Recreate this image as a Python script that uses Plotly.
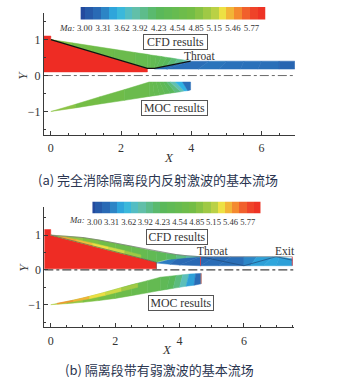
import plotly.graph_objects as go
from plotly.colors import sample_colorscale

W, H = 343, 378
SERIF = "Liberation Serif"
CJK = "Noto Sans CJK SC"
INK = "#3a3a3a"

# ---------- data ----------
MACH_TICKS = [3.00, 3.31, 3.62, 3.92, 4.23, 4.54, 4.85, 5.15, 5.46, 5.77]
MACH_LEVELS = [2.95, 3.08, 3.21, 3.34, 3.47, 3.60, 3.73, 3.86, 3.99, 4.12, 4.25, 4.38, 4.51,
               4.64, 4.77, 4.90, 5.03, 5.16, 5.29, 5.42, 5.55, 5.68, 5.81, 5.94]
MACH_SCALE_M = [2.93, 3.25, 3.54, 3.81, 4.20, 4.80, 5.15, 5.27, 5.50, 5.75, 6.00]
MACH_SCALE_C = ["#23479c", "#2a6fb8", "#2fb6e6", "#62c0b4", "#58b85c", "#74bd45",
                "#b5cf45", "#ece845", "#f59a30", "#ef4a2a", "#ee2c24"]

# panel (a) solid body
A_BODY_X = [-0.2, -0.2, 0.0, 0.0, 2.75, 2.75, -0.2]
A_BODY_Y = [0.10, 1.10, 1.10, 1.00, 0.20, 0.10, 0.10]
A_BODY_LINE_X = [0.0, 2.75, 2.95, 3.98]
A_BODY_LINE_Y = [1.00, 0.20, 0.20, 0.40]

# strips: upper x, upper y, lower x, lower y, Mach of each station
A_CFD_XU = [0.0, 0.6, 1.2, 1.8, 2.4, 2.75, 2.85, 3.0, 3.15, 3.3, 3.45, 3.6, 3.8, 3.98]
A_CFD_YU = [1.00, 0.91, 0.82, 0.73, 0.64, 0.59, 0.57, 0.55, 0.53, 0.505, 0.485, 0.46, 0.43, 0.40]
A_CFD_XL = [0.0, 0.6, 1.2, 1.8, 2.4, 2.75, 2.85, 2.95, 3.0, 3.15, 3.3, 3.5, 3.75, 3.98]
A_CFD_YL = [1.00, 0.83, 0.65, 0.48, 0.30, 0.20, 0.20, 0.20, 0.21, 0.24, 0.27, 0.31, 0.36, 0.40]
A_CFD_M = [4.95, 4.80, 4.70, 4.65, 4.55, 4.45, 4.45, 4.40, 4.35, 4.25, 4.15, 4.05, 3.90, 3.75]

A_DUCT_XU = [2.95, 3.98, 4.5, 5.0, 5.5, 6.0, 6.5, 6.95]
A_DUCT_YU = [0.20, 0.40, 0.40, 0.40, 0.40, 0.40, 0.40, 0.40]
A_DUCT_XL = [2.95, 3.3, 4.2, 4.8, 5.4, 5.9, 6.5, 6.95]
A_DUCT_YL = [0.18, 0.18, 0.18, 0.18, 0.18, 0.18, 0.18, 0.18]
A_DUCT_M = [3.20, 3.24, 3.24, 3.30, 3.22, 3.30, 3.20, 3.14]

A_MOC_XU = [0.0, 0.7, 1.4, 2.1, 2.8, 2.9, 3.0, 3.1, 3.2, 3.3, 3.4, 3.55, 3.75, 3.98]
A_MOC_YU = [-1.00, -0.80, -0.59, -0.39, -0.18, -0.18, -0.18, -0.18, -0.18, -0.18, -0.18, -0.18, -0.18, -0.18]
A_MOC_XL = [0.0, 0.7, 1.4, 2.1, 2.8, 2.95, 3.1, 3.25, 3.4, 3.55, 3.7, 3.8, 3.9, 3.98]
A_MOC_YL = [-1.00, -0.90, -0.79, -0.69, -0.58, -0.56, -0.54, -0.51, -0.49, -0.47, -0.45, -0.43, -0.42, -0.40]
A_MOC_M = [5.0, 4.85, 4.75, 4.65, 4.55, 4.50, 4.45, 4.40, 4.30, 4.15, 3.95, 3.70, 3.35, 3.15]

# panel (b) solid body
B_BODY_X = [-0.2, -0.2, 0.0, 0.0, 3.28, 3.28, -0.2]
B_BODY_Y = [0.03, 1.16, 1.16, 1.00, 0.22, 0.03, 0.03]

B_CFD_XU = [0.0, 0.5, 1.0, 1.5, 2.0, 2.5, 3.0, 3.3, 3.6, 3.9, 4.2, 4.65]
B_CFD_YU = [1.00, 0.97, 0.93, 0.86, 0.77, 0.68, 0.58, 0.53, 0.48, 0.44, 0.41, 0.38]
B_CFD_XL = [0.0, 0.5, 1.0, 1.5, 2.0, 2.5, 3.0, 3.28, 3.6, 3.9, 4.2, 4.65]
B_CFD_YL = [1.00, 0.88, 0.76, 0.64, 0.52, 0.41, 0.29, 0.22, 0.30, 0.32, 0.35, 0.38]
B_CFD_M = [5.10, 5.00, 4.90, 4.80, 4.65, 4.55, 4.45, 4.35, 4.25, 4.10, 3.95, 3.75]

B_SLIVER_XU = [0.3, 0.8, 1.3, 1.8, 2.3, 2.8]
B_SLIVER_YU = [0.96, 0.87, 0.77, 0.66, 0.55, 0.43]
B_SLIVER_XL = [0.3, 0.8, 1.3, 1.8, 2.3, 2.8]
B_SLIVER_YL = [0.93, 0.81, 0.69, 0.57, 0.45, 0.34]
B_SLIVER_M = [5.50, 5.45, 5.35, 5.25, 5.15, 4.90]

B_DUCT_XU = [3.28, 4.0, 4.65, 5.1, 5.6, 6.0, 6.4, 6.9, 7.1, 7.5]
B_DUCT_YU = [0.20, 0.38, 0.38, 0.38, 0.38, 0.38, 0.38, 0.38, 0.38, 0.32]
B_DUCT_XL = [3.28, 3.7, 4.0, 4.65, 5.2, 6.0, 6.2, 6.6, 7.0, 7.5]
B_DUCT_YL = [0.20, 0.16, 0.14, 0.12, 0.12, 0.12, 0.12, 0.12, 0.12, 0.12]
B_DUCT_M = [3.50, 3.10, 3.30, 3.10, 3.35, 3.15, 3.55, 3.35, 3.60, 3.30]
B_SHOCK_X = [4.65, 6.0, 7.0, 7.5]
B_SHOCK_Y = [0.38, 0.12, 0.38, 0.28]

B_MOC_XU = [0.0, 0.5, 1.0, 1.5, 2.0, 2.5, 3.0, 3.4, 3.7, 3.9, 4.1, 4.3, 4.5, 4.67]
B_MOC_YU = [-1.00, -0.91, -0.81, -0.69, -0.56, -0.43, -0.31, -0.21, -0.18, -0.16, -0.14, -0.12, -0.11, -0.10]
B_MOC_XL = [0.0, 0.5, 1.0, 1.5, 2.0, 2.5, 3.0, 3.4, 3.6, 3.8, 4.0, 4.2, 4.45, 4.67]
B_MOC_YL = [-1.00, -0.97, -0.93, -0.88, -0.82, -0.74, -0.66, -0.59, -0.56, -0.53, -0.50, -0.47, -0.44, -0.40]
B_MOC_M = [5.20, 5.05, 4.90, 4.80, 4.70, 4.60, 4.50, 4.40, 4.30, 4.15, 3.95, 3.60, 3.30, 3.15]

B_MOC_SLIVER_XU = [0.2, 0.7, 1.2, 1.7, 2.2, 2.7]
B_MOC_SLIVER_YU = [-0.96, -0.87, -0.76, -0.64, -0.51, -0.39]
B_MOC_SLIVER_XL = [0.2, 0.7, 1.2, 1.7, 2.2, 2.7]
B_MOC_SLIVER_YL = [-0.98, -0.91, -0.83, -0.73, -0.61, -0.50]
B_MOC_SLIVER_M = [5.55, 5.50, 5.35, 5.25, 5.15, 4.95]

X_TICKS = [0, 2, 4, 6]
Y_TICKS = [-1, 0, 1]
CAPTION_A = "(a) 完全消除隔离段内反射激波的基本流场"
CAPTION_B = "(b) 隔离段带有弱激波的基本流场"

# ---------- helpers ----------
lo, hi = MACH_SCALE_M[0], MACH_SCALE_M[-1]
scale = [[(m - lo) / (hi - lo), c] for m, c in zip(MACH_SCALE_M, MACH_SCALE_C)]


def mach_color(m):
    return sample_colorscale(scale, [(m - lo) / (hi - lo)])[0]


def px_x(a, b):
    return [a / W, b / W]


def px_y(top, bottom):
    return [1 - bottom / H, 1 - top / H]


fig = go.Figure()


def strips(ax, xu, yu, xl, yl, m):
    for i in range(len(xu) - 1):
        c = mach_color((m[i] + m[i + 1]) / 2)
        fig.add_trace(go.Scatter(
            x=[xu[i], xu[i + 1], xl[i + 1], xl[i], xu[i]],
            y=[yu[i], yu[i + 1], yl[i + 1], yl[i], yu[i]],
            mode="lines", fill="toself", fillcolor=c,
            line=dict(color=c, width=0.5), hoverinfo="skip", showlegend=False,
            xaxis="x" + ax, yaxis="y" + ax))


def poly(ax, x, y, color):
    fig.add_trace(go.Scatter(x=x, y=y, mode="lines", fill="toself", fillcolor=color,
                             line=dict(color=color, width=0.5), hoverinfo="skip",
                             showlegend=False, xaxis="x" + ax, yaxis="y" + ax))


def line(ax, x, y, color, width, dash="solid"):
    fig.add_trace(go.Scatter(x=x, y=y, mode="lines", line=dict(color=color, width=width, dash=dash),
                             hoverinfo="skip", showlegend=False, xaxis="x" + ax, yaxis="y" + ax))


# panel a (axes 1) -- panel b (axes 2)
RED = "#ee2c24"
poly("", A_BODY_X, A_BODY_Y, RED)
strips("", A_DUCT_XU, A_DUCT_YU, A_DUCT_XL, A_DUCT_YL, A_DUCT_M)
strips("", A_CFD_XU, A_CFD_YU, A_CFD_XL, A_CFD_YL, A_CFD_M)
strips("", A_MOC_XU, A_MOC_YU, A_MOC_XL, A_MOC_YL, A_MOC_M)
line("", A_BODY_LINE_X, A_BODY_LINE_Y, "#111111", 1.3)
line("", [-0.2, 6.95], [0, 0], "#444444", 0.8, "dashdot")

poly("2", B_BODY_X, B_BODY_Y, RED)
strips("2", B_DUCT_XU, B_DUCT_YU, B_DUCT_XL, B_DUCT_YL, B_DUCT_M)
line("2", B_SHOCK_X, B_SHOCK_Y, "#1f4a7a", 0.7)
strips("2", B_CFD_XU, B_CFD_YU, B_CFD_XL, B_CFD_YL, B_CFD_M)
strips("2", B_SLIVER_XU, B_SLIVER_YU, B_SLIVER_XL, B_SLIVER_YL, B_SLIVER_M)
strips("2", B_MOC_XU, B_MOC_YU, B_MOC_XL, B_MOC_YL, B_MOC_M)
strips("2", B_MOC_SLIVER_XU, B_MOC_SLIVER_YU, B_MOC_SLIVER_XL, B_MOC_SLIVER_YL, B_MOC_SLIVER_M)
line("2", [0, 3.28, 3.28], [1.0, 0.22, 0.03], "#555555", 0.6)
line("2", B_CFD_XU, B_CFD_YU, "#777777", 0.7)
line("2", [4.65, 7.5], [0.38, 0.38], "#999999", 0.8)
line("2", [4.65, 4.65], [0.12, 0.38], "#d8404a", 0.9)
line("2", [7.5, 7.5], [0.12, 0.38], "#d8404a", 0.9)
line("2", [4.67, 4.67], [-0.40, -0.10], "#e87a5a", 0.9)
line("2", [-0.2, 7.55], [0, 0], "#444444", 1.1, "dashdot")

# colour bars
for ax in ("3", "4"):
    fig.add_trace(go.Heatmap(x=MACH_LEVELS, y=[0], z=[MACH_LEVELS], colorscale=scale, zmin=lo, zmax=hi,
                             showscale=False, hoverinfo="skip", xaxis="x" + ax, yaxis="y" + ax))

tickfont = dict(family=SERIF, size=12, color="#333333")
minor = dict(ticks="inside", ticklen=2, tickcolor=INK, tickwidth=0.7)


def main_axes(xdom, ydom, xr, yr, anchor_x, anchor_y, xminor, yminor):
    xa = dict(domain=xdom, range=xr, anchor=anchor_y, tickvals=X_TICKS, ticks="inside", ticklen=4,
              tickwidth=0.8, tickcolor=INK, showgrid=False, zeroline=False, showline=True,
              linecolor=INK, linewidth=1, tickfont=tickfont, ticklabelstandoff=2,
              minor=dict(dtick=xminor, **minor))
    ya = dict(domain=ydom, range=yr, anchor=anchor_x, tickvals=Y_TICKS, ticks="inside", ticklen=4,
              tickwidth=0.8, tickcolor=INK, showgrid=False, zeroline=False, showline=True,
              linecolor=INK, linewidth=1, tickfont=tickfont, minor=dict(dtick=yminor, **minor))
    return xa, ya


xa1, ya1 = main_axes(px_x(38.5, 294), px_y(13, 134.5), [-0.2, 6.95], [-1.64, 1.74], "x", "y", 0.5, 0.5)
xa2, ya2 = main_axes(px_x(39, 293), px_y(207.3, 327.3), [-0.2, 7.55], [-1.65, 1.8], "x2", "y2", 0.5, 0.5)


def bar_axes(xdom, ydom, xr, anchor_y, size):
    xa = dict(domain=xdom, range=xr, anchor=anchor_y, tickvals=MACH_TICKS,
              ticktext=[f"{t:.2f}" for t in MACH_TICKS], ticks="", showgrid=False, zeroline=False,
              showline=False, ticklabelstandoff=2,
              tickfont=dict(family=SERIF, size=size, color="#333333"), tickangle=0)
    ya = dict(domain=ydom, anchor=anchor_y.replace("y", "x"), visible=False, range=[-0.5, 0.5])
    return xa, ya


xa3, ya3 = bar_axes(px_x(76, 264), px_y(7, 19.5), [2.935, 6.0], "y3", 8.8)
xa4, ya4 = bar_axes(px_x(88, 259), px_y(201.5, 213.5), [2.965, 6.0], "y4", 8.6)


def text(x, y, s, size=11, family=SERIF, color="#333333", box=False, w=None, h=None, italic=False, angle=0):
    a = dict(xref="paper", yref="paper", x=x / W, y=1 - y / H, text=f"<i>{s}</i>" if italic else s,
             showarrow=False, xanchor="center", yanchor="middle", textangle=angle,
             font=dict(family=family, size=size, color=color))
    if box:
        a.update(bordercolor="#555555", borderwidth=1, borderpad=0, bgcolor="white", width=w, height=h)
    return a


ann = [
    text(172.5, 42, "CFD results", 11.8, box=True, w=63, h=14),
    text(172, 107.5, "MOC results", 11.8, box=True, w=65, h=14),
    text(197, 55.5, "Throat", 11.5),
    text(174.5, 236.5, "CFD results", 11.8, box=True, w=60, h=14),
    text(178.5, 303, "MOC results", 11.8, box=True, w=64, h=14),
    text(210.5, 250.5, "Throat", 11.5),
    text(284, 250.5, "Exit", 11.5),
    text(166, 158, "X", 13, italic=True),
    text(17, 75, "Y", 13, italic=True, angle=-90),
    text(164, 349.5, "X", 13, italic=True),
    text(17, 267, "Y", 13, italic=True, angle=-90),
    text(62, 28, "Ma:", 9, italic=True),
    text(72, 219.5, "Ma:", 8.8, italic=True),
    dict(text(155, 179, CAPTION_A, 13, family=CJK, color="#2a3550"), height=16),
    dict(text(156, 368.5, CAPTION_B, 13, family=CJK, color="#2a3550"), height=16),
]

fig.update_layout(
    width=W, height=H, margin=dict(l=0, r=0, t=0, b=0), paper_bgcolor="white", plot_bgcolor="white",
    showlegend=False, annotations=ann,
    xaxis=xa1, yaxis=ya1, xaxis2=xa2, yaxis2=ya2, xaxis3=xa3, yaxis3=ya3, xaxis4=xa4, yaxis4=ya4,
)

fig.write_html("out.html", config={"displayModeBar": False},
               post_script="document.body.style.margin='0';document.body.style.overflow='hidden';")
